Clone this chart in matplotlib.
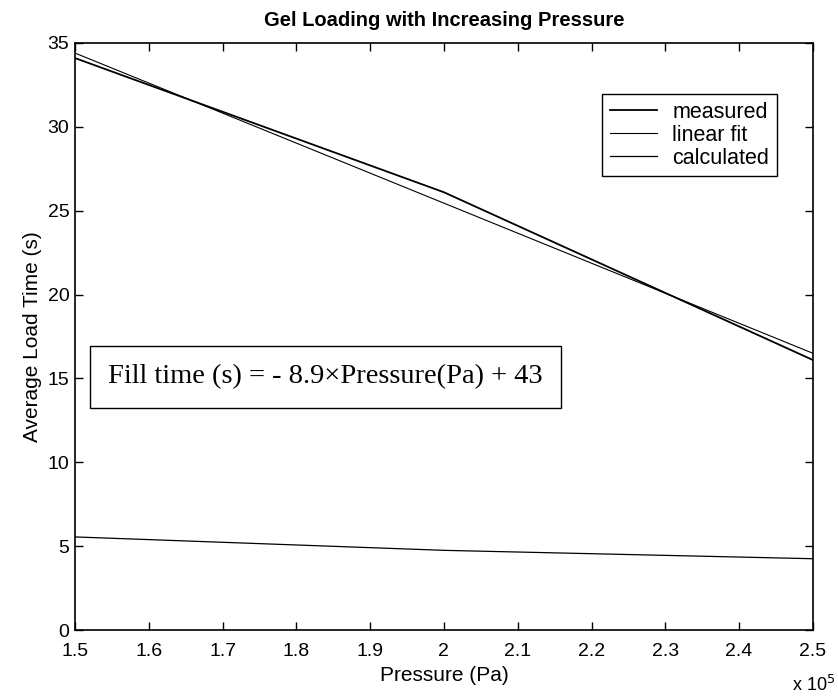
import matplotlib.pyplot as plt
from matplotlib.ticker import FuncFormatter

# data (pressure in Pa, time in s)
pressure = [1.5e5, 2.0e5, 2.5e5]
measured = [34.1, 26.1, 16.1]
fit_pressure = [1.5e5, 2.5e5]
fit_time = [34.4, 16.5]
calculated = [5.55, 4.75, 4.25]

plt.rcParams['font.family'] = ['Liberation Sans', 'DejaVu Sans']

fig = plt.figure(figsize=(8.38, 6.99), dpi=100)
ax = fig.add_axes([0.0895, 0.0987, 0.8805, 0.8398])

ax.plot(pressure, measured, 'k-', lw=1.3, label='measured')
ax.plot(fit_pressure, fit_time, 'k-', lw=0.8, label='linear fit')
ax.plot(pressure, calculated, 'k-', lw=0.9, label='calculated')

ax.set_xlim(1.5e5, 2.5e5)
ax.set_ylim(0, 35)
ax.set_xticks([1.5e5 + i * 0.1e5 for i in range(11)])
ax.set_yticks(range(0, 36, 5))
ax.xaxis.set_major_formatter(FuncFormatter(lambda v, p: '{:g}'.format(round(v / 1e5, 1))))
ax.tick_params(direction='in', top=True, right=True, labelsize=14, length=6, width=1)
ax.tick_params(axis='x', pad=9)
ax.tick_params(axis='y', pad=4)
for s in ax.spines.values():
    s.set_linewidth(1.2)

ax.set_title('Gel Loading with Increasing Pressure', fontsize=14.5, weight='bold', pad=12)
ax.set_xlabel('Pressure (Pa)', fontsize=15, labelpad=5)
ax.set_ylabel('Average Load Time (s)', fontsize=15, labelpad=4)
fig.text(0.997, 0.012, r'x 10$^5$', fontsize=13, ha='right')

leg = ax.legend(loc='upper right', bbox_to_anchor=(0.951, 0.913), borderaxespad=0,
                fontsize=15.5, fancybox=False, framealpha=1, edgecolor='k',
                handlelength=2.2, borderpad=0.35, labelspacing=0.1, handletextpad=0.7)
leg.get_frame().set_linewidth(1.0)

ax.text(1.545e5, 15.1, 'Fill time (s) = - 8.9\u00d7Pressure(Pa) + 43',
        family=['Liberation Serif', 'DejaVu Serif'], fontsize=20.5, va='center',
        bbox=dict(boxstyle='square,pad=0.65', fc='white', ec='k', lw=1.0))

fig.savefig('out.png')
